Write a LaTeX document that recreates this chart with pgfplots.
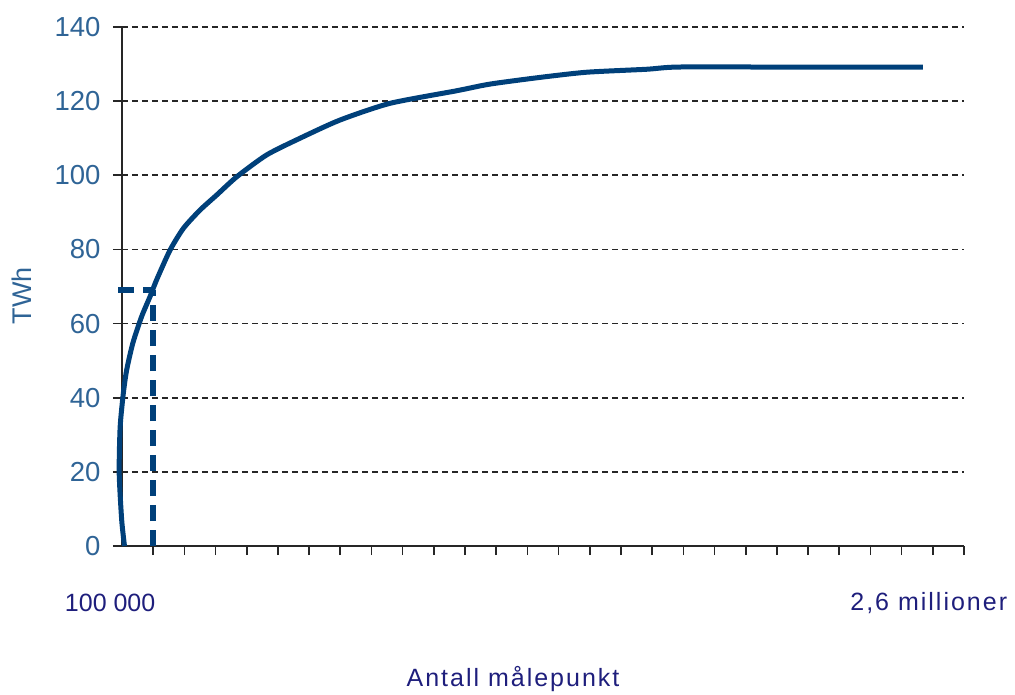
\documentclass[border=0pt]{standalone}
\usepackage{pgfplots}
\pgfplotsset{compat=1.18}
\usepackage{fontspec}
\setmainfont{Liberation Sans}
\newfontfamily\spaced[LetterSpace=8]{Liberation Sans}
\definecolor{curve}{HTML}{00407A}
\definecolor{ticklab}{HTML}{2F6496}
\definecolor{navy}{HTML}{1E1E7C}
\begin{document}
\begin{tikzpicture}
\useasboundingbox (-122pt,-148pt) rectangle (893pt,546pt);
\begin{axis}[
  at={(0,0)}, anchor=south west,
  scale only axis, width=842pt, height=519pt,
  xmin=0, xmax=27, ymin=0, ymax=140,
  axis x line=bottom, axis y line=left,
  axis line style={-, line width=1.6pt, color=black!85},
  every tick/.style={line width=1.6pt, color=black!85},
  tick align=outside, major tick length=9pt,
  xtick={1,2,...,27}, xticklabels={},
  ytick={0,20,...,140},
  ymajorgrids,
  grid style={dash pattern=on 6pt off 4pt, line width=1.8pt, color=black!85},
  /pgf/number format/assume math mode=true,
  yticklabel style={font=\fontsize{27.5}{32}\selectfont, color=ticklab, anchor=east, xshift=-9pt},
  xlabel={\spaced Antall målepunkt},
  xlabel style={at={(rel axis cs:0.4644,-0.2563)}, anchor=center, font=\fontsize{25}{30}\selectfont, color=navy},
  ylabel={TWh},
  ylabel style={at={(rel axis cs:-0.1188,0.4817)}, anchor=center, rotate=0, font=\fontsize{27}{30}\selectfont, color=ticklab},
  clip=false,
]
\addplot[curve, line width=5pt, smooth, tension=0.4] coordinates {
(0.08,0) (-0.01,7) (-0.09,19.7) (-0.06,32) (0.04,41) (0.15,47.5) (0.35,54.8)
(0.63,61.9) (0.90,67.3) (1.11,71.8) (1.54,79.8) (1.97,85.7) (2.50,90.6)
(3.04,94.7) (3.68,99.6) (4.64,105.5) (5.71,110) (6.99,114.9) (8.59,119.4)
(10.73,122.8) (11.80,124.6) (13.40,126.4) (14.90,127.8) (16.82,128.6)
(17.83,129.2) (21.0,129.2) (25.68,129.2)
};
\addplot[curve, line width=6pt, dash pattern=on 16pt off 9pt] coordinates {(1,0) (1,69)};
\addplot[curve, line width=6pt, dash pattern=on 16pt off 9pt] coordinates {(-0.12,69) (1,69)};
\node[font=\fontsize{25}{30}\selectfont, color=navy] at (axis cs:-0.38,-15.4) {100 000};
\node[font=\fontsize{25}{30}\selectfont\spaced, color=navy] at (axis cs:25.87,-15.4) {2,6 millioner};
\end{axis}
\end{tikzpicture}
\end{document}
